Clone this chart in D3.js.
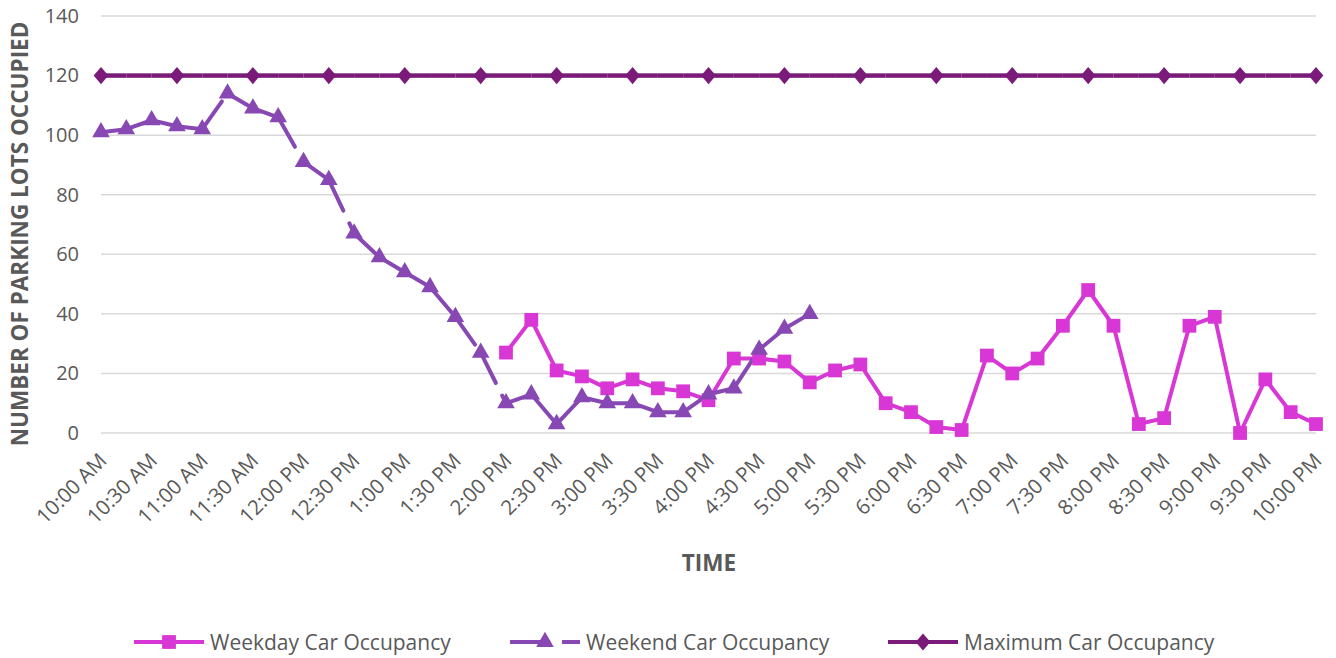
<!DOCTYPE html>
<html>
<head>
<meta charset="utf-8">
<script src="https://cdn.jsdelivr.net/npm/d3@7"></script>
<style>
  html, body { margin: 0; padding: 0; background: #fff; }
  svg { display: block; }
  text { font-family: "Open Sans", "DejaVu Sans", sans-serif; fill: #595959; }
</style>
</head>
<body>
<svg id="chart" width="1336" height="658"></svg>
<script>
// ---- data (15-minute samples from 10:00 AM to 10:00 PM) ----
const timeLabels = ["10:00 AM","10:30 AM","11:00 AM","11:30 AM","12:00 PM","12:30 PM","1:00 PM","1:30 PM",
  "2:00 PM","2:30 PM","3:00 PM","3:30 PM","4:00 PM","4:30 PM","5:00 PM","5:30 PM","6:00 PM","6:30 PM",
  "7:00 PM","7:30 PM","8:00 PM","8:30 PM","9:00 PM","9:30 PM","10:00 PM"];
const sampleCount = 49;
const yTicks = [0, 20, 40, 60, 80, 100, 120, 140];

const weekdayValues = [null,null,null,null,null,null,null,null,null,null,null,null,null,null,null,null,
  27,38,21,19,15,18,15,14,11,25,25,24,17,21,23,10,7,2,1,26,20,25,36,48,36,3,5,36,39,0,18,7,3];
const weekendValues = [101,102,105,103,102,114,109,106,91,85,67,59,54,49,39,27,
  10,13,3,12,10,10,7,7,13,15,28,35,40,
  null,null,null,null,null,null,null,null,null,null,null,null,null,null,null,null,null,null,null,null,null];
const maxValues = Array.from({length: sampleCount}, () => 120);

const seriesNames = ["Weekday Car Occupancy", "Weekend Car Occupancy", "Maximum Car Occupancy"];
const colors = {weekday: "#d837d5", weekend: "#8748b3", max: "#7a1b79"};

// ---- layout ----
const svg = d3.select("#chart");
const x = d3.scaleLinear().domain([0, sampleCount - 1]).range([101, 1316]);
const y = d3.scaleLinear().domain([0, 140]).range([433, 16]);

// gridlines
svg.append("g").selectAll("line").data(yTicks).join("line")
  .attr("x1", x(0)).attr("x2", x(sampleCount - 1))
  .attr("y1", d => y(d)).attr("y2", d => y(d))
  .attr("stroke", "#d9d9d9").attr("stroke-width", 1.5);

// y axis via d3 axis
const yAxis = d3.axisLeft(y).tickValues(yTicks).tickSize(0).tickPadding(0);
const gy = svg.append("g").attr("transform", "translate(79,0)").call(yAxis);
gy.select(".domain").remove();
gy.selectAll("text").attr("font-size", 20).attr("fill", "#595959")
  .style("font-family", '"Open Sans", sans-serif');

// x axis labels (every 30 min = every 2 samples)
const xa = d3.scaleLinear().domain([0, timeLabels.length - 1]).range([x(0), x(sampleCount - 1)]);
svg.append("g").selectAll("text").data(timeLabels).join("text")
  .attr("transform", (d, i) => `translate(${xa(i) + 7},${462}) rotate(-45)`)
  .attr("text-anchor", "end")
  .attr("font-size", 20.5)
  .text(d => d);

// axis titles
svg.append("text")
  .attr("transform", "translate(28,234) rotate(-90)")
  .attr("text-anchor", "middle")
  .attr("font-size", 22.5).attr("font-weight", "bold")
  .text("NUMBER OF PARKING LOTS OCCUPIED");
svg.append("text")
  .attr("x", 709).attr("y", 571)
  .attr("text-anchor", "middle")
  .attr("font-size", 22.5).attr("font-weight", "bold")
  .text("TIME");

// helpers
function segments(values) {
  const segs = [];
  for (let i = 0; i < values.length - 1; i++) {
    if (values[i] != null && values[i + 1] != null) segs.push([i, i + 1]);
  }
  return segs;
}
const line = d3.line().x(d => x(d[0])).y(d => y(d[1]));

// weekday line
const wd = weekdayValues.map((v, i) => [i, v]).filter(d => d[1] != null);
svg.append("path").attr("d", line(wd)).attr("fill", "none")
  .attr("stroke", colors.weekday).attr("stroke-width", 4).attr("stroke-linejoin", "round");

// weekend line - each segment dashed individually (pattern restarts at each point)
svg.append("g").selectAll("line").data(segments(weekendValues)).join("line")
  .attr("x1", d => x(d[0])).attr("y1", d => y(weekendValues[d[0]]))
  .attr("x2", d => x(d[1])).attr("y2", d => y(weekendValues[d[1]]))
  .attr("stroke", colors.weekend).attr("stroke-width", 4)
  .attr("stroke-linecap", "round")
  .attr("stroke-dasharray", "34 14");

// max line
const mx = maxValues.map((v, i) => [i, v]);
svg.append("g").selectAll("line").data(segments(maxValues)).join("line")
  .attr("x1", d => x(d[0])).attr("y1", d => y(maxValues[d[0]]))
  .attr("x2", d => x(d[1])).attr("y2", d => y(maxValues[d[1]]))
  .attr("stroke", colors.max).attr("stroke-width", 4.5);

// markers
const diamondType = {
  draw(ctx, size) {
    const w = Math.sqrt(size) * 0.58, h = Math.sqrt(size) * 0.68;
    ctx.moveTo(0, -h); ctx.lineTo(w, 0); ctx.lineTo(0, h); ctx.lineTo(-w, 0); ctx.closePath();
  }
};
const sq = d3.symbol().type(d3.symbolSquare).size(190);
const tri = d3.symbol().type(d3.symbolTriangle).size(135);
const dia = d3.symbol().type(diamondType).size(160);

svg.append("g").selectAll("path").data(wd).join("path")
  .attr("transform", d => `translate(${x(d[0])},${y(d[1])})`)
  .attr("d", sq()).attr("fill", colors.weekday);

const we = weekendValues.map((v, i) => [i, v]).filter(d => d[1] != null);
svg.append("g").selectAll("path").data(we).join("path")
  .attr("transform", d => `translate(${x(d[0])},${y(d[1])})`)
  .attr("d", tri()).attr("fill", colors.weekend);

svg.append("g").selectAll("path").data(mx.filter(d => d[0] % 3 === 0)).join("path")
  .attr("transform", d => `translate(${x(d[0])},${y(d[1])})`)
  .attr("d", dia()).attr("fill", colors.max);

// legend
const legendY = 642;
const legendItems = [
  {name: seriesNames[0], color: colors.weekday, sym: sq, x0: 134, dash: null},
  {name: seriesNames[1], color: colors.weekend, sym: tri, x0: 510, dash: "40 12"},
  {name: seriesNames[2], color: colors.max, sym: dia, x0: 888, dash: null}
];
const lg = svg.append("g").selectAll("g").data(legendItems).join("g")
  .attr("transform", d => `translate(${d.x0},${legendY})`);
lg.append("line").attr("x1", 0).attr("x2", 70).attr("y1", 0).attr("y2", 0)
  .attr("stroke", d => d.color).attr("stroke-width", 4)
  .attr("stroke-dasharray", d => d.dash);
lg.append("path").attr("transform", "translate(35,0)")
  .attr("d", d => d.sym()).attr("fill", d => d.color);
lg.append("text").attr("x", 76).attr("y", 7.5)
  .attr("font-size", 21).text(d => d.name);
</script>
</body>
</html>
